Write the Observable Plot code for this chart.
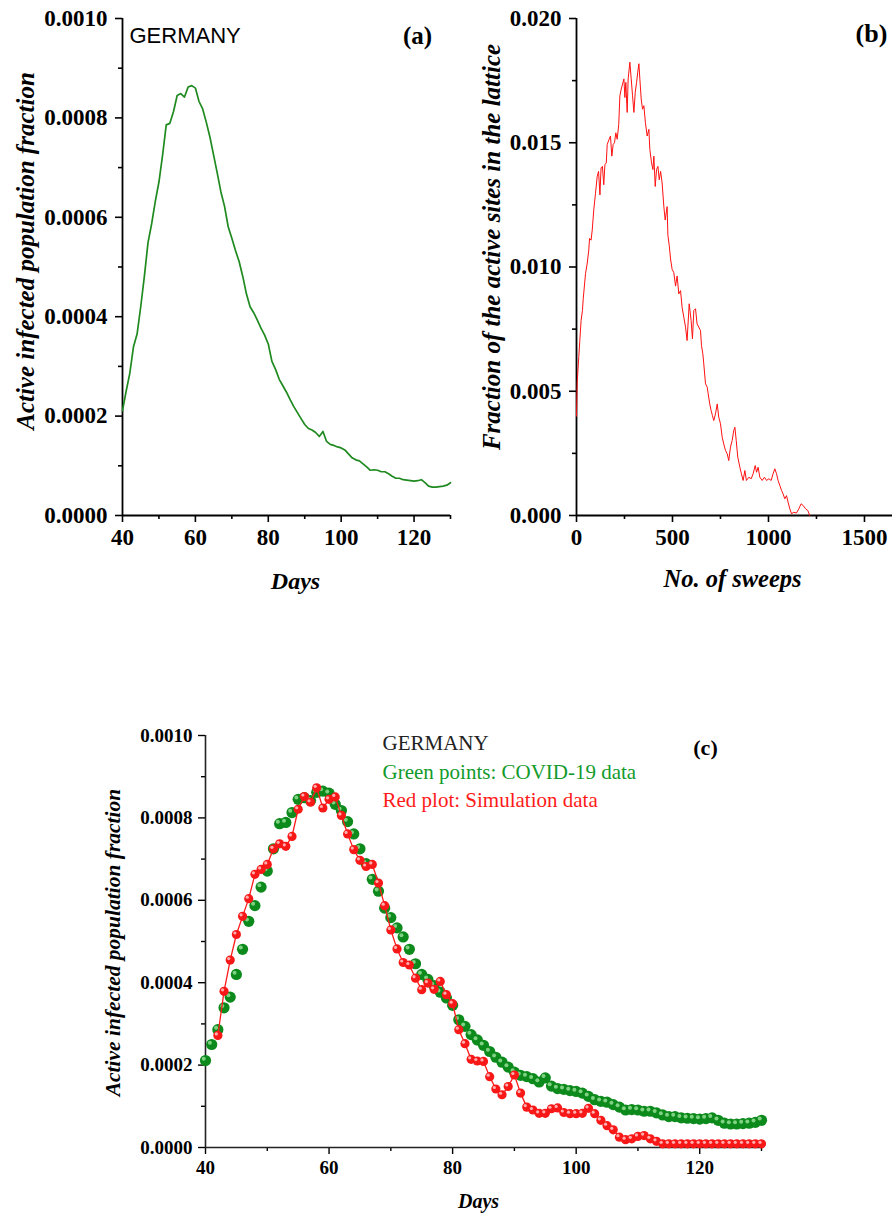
<!DOCTYPE html>
<html>
<head>
<meta charset="utf-8">
<script src="https://cdn.jsdelivr.net/npm/d3@7"></script>
<script src="https://cdn.jsdelivr.net/npm/@observablehq/plot@0.6"></script>
<style>
  html, body { margin: 0; padding: 0; background: #fff; }
  #root { position: relative; width: 892px; height: 1216px; overflow: hidden; }
  .panel { position: absolute; }
</style>
</head>
<body>
<div id="root">
  <div class="panel" id="pa" style="left:0;top:0"></div>
  <div class="panel" id="pb" style="left:446px;top:0"></div>
  <div class="panel" id="pc" style="left:0;top:620px"></div>
</div>
<script>
// ---------------- DATA ----------------
const country = "GERMANY";
const covidStartDay = 40;
const covidFraction = [
  0.000211, 0.000250, 0.000286, 0.000339, 0.000365, 0.000420, 0.000481, 0.000549, 0.000587, 0.000632,
  0.000671, 0.000725, 0.000786, 0.000789, 0.000813, 0.000845, 0.000849, 0.000842, 0.000862, 0.000865,
  0.000860, 0.000833, 0.000818, 0.000791, 0.000761, 0.000725, 0.000689, 0.000651, 0.000622, 0.000581,
  0.000558, 0.000533, 0.000511, 0.000481, 0.000446, 0.000420, 0.000408, 0.000393, 0.000377, 0.000363,
  0.000345, 0.000310, 0.000294, 0.000274, 0.000261, 0.000248, 0.000233, 0.000219, 0.000207, 0.000195,
  0.000183, 0.000175, 0.000172, 0.000167, 0.000159, 0.000169, 0.000149, 0.000143, 0.000141, 0.000138,
  0.000136, 0.000132, 0.000124, 0.000116, 0.000112, 0.000110, 0.000104, 0.000098, 0.000091, 0.000092,
  0.000091, 0.000088, 0.000088, 0.000084, 0.000079, 0.000075, 0.000075, 0.000072, 0.000071, 0.000070,
  0.000069, 0.000070, 0.000072, 0.000066, 0.000059, 0.000057, 0.000057, 0.000058, 0.000059, 0.000061,
  0.000066
];
const simStartDay = 42;
const simFraction = [
  0.000272, 0.000379, 0.000455, 0.000517, 0.000561, 0.000604, 0.000663, 0.000675,
  0.000687, 0.000725, 0.000737, 0.000731, 0.000755, 0.000821, 0.000852, 0.000838, 0.000873, 0.000824,
  0.000845, 0.000851, 0.000806, 0.000761, 0.000723, 0.000697, 0.000682, 0.000687, 0.000642, 0.000587,
  0.000528, 0.000482, 0.000449, 0.000443, 0.000411, 0.000383, 0.000399, 0.000384, 0.000403, 0.000371,
  0.000349, 0.000286, 0.000252, 0.000214, 0.000210, 0.000209, 0.000172, 0.000142, 0.000128, 0.000148,
  0.000176, 0.000132, 0.000098, 0.000091, 0.000083, 0.000083, 0.000094, 0.000096, 0.000085, 0.000082,
  0.000082, 0.000083, 0.000095, 0.000082, 0.000066, 0.000053, 0.000043, 0.000025, 0.000019, 0.000021,
  0.000027, 0.000029, 0.000021, 0.000015, 0.000009, 0.000009, 0.000009, 0.000009, 0.000009, 0.000009,
  0.000009, 0.000009, 0.000009, 0.000009, 0.000009, 0.000009, 0.000009, 0.000009, 0.000009, 0.000009,
  0.000009
];
const sweeps = [
  0, 2, 4, 12, 17, 24, 31, 35, 47, 56, 64, 68, 76, 82, 90, 99, 108, 115, 122, 128,
  135, 142, 148, 155, 160, 170, 177, 184, 191, 198, 205, 212, 220, 226, 233, 240, 247, 252, 257, 264,
  269, 278, 285, 292, 299, 306, 313, 319, 325, 330, 337, 344, 351, 359, 368, 377, 382, 391, 398, 403,
  410, 417, 424, 431, 438, 446, 455, 462, 472, 476, 483, 490, 498, 507, 516, 524, 533, 542, 550, 559,
  568, 576, 587, 597, 604, 611, 620, 628, 637, 646, 651, 658, 663, 672, 681, 686, 694, 701, 708, 715,
  724, 733, 741, 750, 759, 767, 776, 785, 793, 802, 811, 819, 825, 832, 840, 851, 859, 868, 877, 885,
  898, 910, 920, 931, 938, 946, 955, 967, 979, 990, 1002, 1014, 1024, 1033, 1042, 1050, 1059, 1068, 1076, 1085,
  1094, 1102, 1111, 1120, 1132, 1146, 1158, 1170, 1181, 1193, 1205, 1215
];
const activeSites = [
  0.0040, 0.0048, 0.0054, 0.0064, 0.0070, 0.00785, 0.00825, 0.00872, 0.00973, 0.01016, 0.01068, 0.01115, 0.01108, 0.01149, 0.0123, 0.01297, 0.01365, 0.01385, 0.0129, 0.01399,
  0.01405, 0.01331, 0.01412, 0.01419, 0.01493, 0.01514, 0.01527, 0.01446, 0.01493, 0.0150, 0.0154, 0.01514, 0.01574, 0.01689, 0.01716, 0.01736, 0.01757, 0.01682, 0.01743, 0.01622,
  0.01757, 0.01824, 0.01757, 0.01689, 0.01622, 0.01703, 0.01743, 0.01784, 0.01818, 0.01757, 0.01676, 0.01635, 0.01649, 0.01581, 0.01527, 0.01554, 0.01473, 0.01419, 0.01392, 0.01446,
  0.01324, 0.01392, 0.01405, 0.01351, 0.01385, 0.01338, 0.01243, 0.01189, 0.01243, 0.01128, 0.01087, 0.01032, 0.00991, 0.00977, 0.00923, 0.00964, 0.00892, 0.00905, 0.00838, 0.00798,
  0.00758, 0.00704, 0.00852, 0.00785, 0.00711, 0.00825, 0.00832, 0.00771, 0.00758, 0.00744, 0.00684, 0.00651, 0.00610, 0.0053, 0.00516, 0.0049, 0.00449, 0.00423, 0.00402, 0.00382,
  0.00409, 0.00449, 0.00396, 0.00369, 0.00315, 0.00288, 0.00262, 0.00248, 0.00221, 0.00275, 0.00302, 0.00342, 0.00355, 0.00302, 0.00235, 0.00194, 0.00168, 0.00141, 0.00181, 0.00141,
  0.00154, 0.00148, 0.00168, 0.00201, 0.00174, 0.00194, 0.00154, 0.00141, 0.00154, 0.00141, 0.00148, 0.00141, 0.00168, 0.00188, 0.00168, 0.00141, 0.00121, 0.00101, 0.00087, 0.00067,
  0.0008, 0.00054, 0.00027, 0.00007, 0.00013, 0.0001, 0.00027, 0.00047, 0.0004, 0.00027, 0.0002, 0
];
const dayTicks = [40, 60, 80, 100, 120];
const dayMinorTicks = [50, 70, 90, 110, 130];
const fracTicks = [0, 0.0002, 0.0004, 0.0006, 0.0008, 0.001];
const fracMinorTicks = [0.0001, 0.0003, 0.0005, 0.0007, 0.0009];
const sweepTicks = [0, 500, 1000, 1500];
const sweepMinorTicks = [250, 750, 1250];
const siteTicks = [0, 0.005, 0.010, 0.015, 0.020];
const siteMinorTicks = [0.0025, 0.0075, 0.0125, 0.0175];
const labels = {
  days: "Days",
  frac: "Active infected population fraction",
  sweeps: "No. of sweeps",
  sites: "Fraction of the active sites in the lattice",
  legendGreen: "Green points: COVID-19 data",
  legendRed: "Red plot: Simulation data",
  a: "(a)", b: "(b)", c: "(c)"
};

// ---------------- TABLES ----------------
const covid = covidFraction.map((v, i) => ({day: covidStartDay + i, value: v}));
const sim = simFraction.map((v, i) => ({day: simStartDay + i, value: v}));
const sweepData = sweeps.map((s, i) => ({sweep: s, value: activeSites[i]}));

const serif = "'Liberation Serif', 'Times New Roman', serif";
const sans = "'Liberation Sans', Arial, sans-serif";

function baseStyle(size) {
  return {fontFamily: serif, fontSize: size + "px", fontWeight: "bold", color: "#000", background: "transparent", overflow: "visible"};
}
function axes(xT, xMinor, yT, yMinor, yFmt, sw, pad) {
  return [
    Plot.axisY({ticks: yT, tickSize: 7, tickPadding: pad, tickFormat: yFmt, label: null, strokeWidth: sw}),
    Plot.axisY({ticks: yMinor, tickSize: 4, tickFormat: () => "", label: null, strokeWidth: sw}),
    Plot.axisX({ticks: xT, tickSize: 7, tickPadding: 6, tickFormat: d => String(d), label: null, strokeWidth: sw}),
    Plot.axisX({ticks: xMinor, tickSize: 4, tickFormat: () => "", label: null, strokeWidth: sw})
  ];
}
function txt(s, o) {
  return Plot.text([s], Object.assign({text: d => d, textAnchor: "middle", lineAnchor: "middle"}, o));
}

// ---------------- PANEL (a) ----------------
const pa = Plot.plot({
  width: 460, height: 600,
  marginLeft: 122, marginRight: 10, marginTop: 18, marginBottom: 85,
  x: {domain: [40, 130]},
  y: {domain: [0, 0.001]},
  style: baseStyle(23),
  marks: [
    ...axes(dayTicks, dayMinorTicks, fracTicks, fracMinorTicks, d3.format(".4f"), 1.6, 8),
    Plot.ruleX([40], {stroke: "#000", strokeWidth: 1.8}),
    Plot.ruleY([0], {stroke: "#000", strokeWidth: 1.8}),
    Plot.line(covid, {x: "day", y: "value", stroke: "#1f8a1f", strokeWidth: 1.7}),
    txt(country, {frameAnchor: "top-left", textAnchor: "start", dx: 7, dy: 17, fontFamily: sans, fontWeight: "normal", fontSize: 22}),
    txt(labels.a, {frameAnchor: "top-left", dx: 295, dy: 17, fontSize: 25}),
    txt(labels.frac, {frameAnchor: "left", rotate: -90, dx: -97, dy: -16, fontSize: 25, fontStyle: "italic"}),
    txt(labels.days, {frameAnchor: "bottom", dx: 9, dy: 66, fontSize: 24, fontStyle: "italic"})
  ]
});
document.getElementById("pa").appendChild(pa);

// ---------------- PANEL (b) ----------------
const pb = Plot.plot({
  width: 446, height: 600,
  marginLeft: 130, marginRight: 0, marginTop: 18, marginBottom: 85,
  x: {domain: [0, 1646]},
  y: {domain: [0, 0.02]},
  style: baseStyle(23),
  marks: [
    ...axes(sweepTicks, sweepMinorTicks, siteTicks, siteMinorTicks, d3.format(".3f"), 1.6, 8),
    Plot.ruleX([0], {stroke: "#000", strokeWidth: 1.8}),
    Plot.ruleY([0], {stroke: "#000", strokeWidth: 1.8}),
    Plot.line(sweepData, {x: "sweep", y: "value", stroke: "#ff1010", strokeWidth: 1}),
    txt(labels.b, {frameAnchor: "top-right", dx: -21, dy: 15, fontSize: 26}),
    txt(labels.sites, {frameAnchor: "left", rotate: -90, dx: -85, dy: -20, fontSize: 25, fontStyle: "italic"}),
    txt(labels.sweeps, {frameAnchor: "bottom", dx: -2, dy: 64, fontSize: 24.5, fontStyle: "italic"})
  ]
});
document.getElementById("pb").appendChild(pb);

// ---------------- PANEL (c) ----------------
const pc = Plot.plot({
  width: 892, height: 596,
  marginLeft: 205, marginRight: 131, marginTop: 115, marginBottom: 69,
  x: {domain: [40, 130]},
  y: {domain: [0, 0.001]},
  style: baseStyle(19),
  marks: [
    ...axes(dayTicks, dayMinorTicks, fracTicks, fracMinorTicks, d3.format(".4f"), 1.4, 6),
    Plot.ruleX([40], {stroke: "#222", strokeWidth: 1.6}),
    Plot.ruleY([0], {stroke: "#222", strokeWidth: 1.6}),
    Plot.dot(covid, {x: "day", y: "value", r: 5.6, fill: "#0c8a1c"}),
    Plot.dot(covid, {x: "day", y: "value", r: 2, dx: -1.8, dy: -1.8, fill: "#9be39b", fillOpacity: 0.8}),
    Plot.line(sim, {x: "day", y: "value", stroke: "#ff1a1a", strokeWidth: 1.3}),
    Plot.dot(sim, {x: "day", y: "value", r: 4.6, fill: "#f81818"}),
    Plot.dot(sim, {x: "day", y: "value", r: 1.6, dx: -1.5, dy: -1.5, fill: "#ffc0c0", fillOpacity: 0.9}),
    txt(country, {frameAnchor: "top-left", textAnchor: "start", dx: 177, dy: 8, fontWeight: "normal", fontSize: 21, fill: "#222"}),
    txt(labels.legendGreen, {frameAnchor: "top-left", textAnchor: "start", dx: 177, dy: 37, fontWeight: "normal", fontSize: 21, fill: "#139a2c"}),
    txt(labels.legendRed, {frameAnchor: "top-left", textAnchor: "start", dx: 177, dy: 65, fontWeight: "normal", fontSize: 21, fill: "#ff1a1a"}),
    txt(labels.c, {frameAnchor: "top-left", dx: 500, dy: 12, fontSize: 22}),
    txt(labels.frac, {frameAnchor: "left", rotate: -90, dx: -92, dy: 1, fontSize: 21.5, fontStyle: "italic"}),
    txt(labels.days, {frameAnchor: "bottom", dx: -5, dy: 54, fontSize: 20, fontStyle: "italic"})
  ]
});
document.getElementById("pc").appendChild(pc);
</script>
</body>
</html>
